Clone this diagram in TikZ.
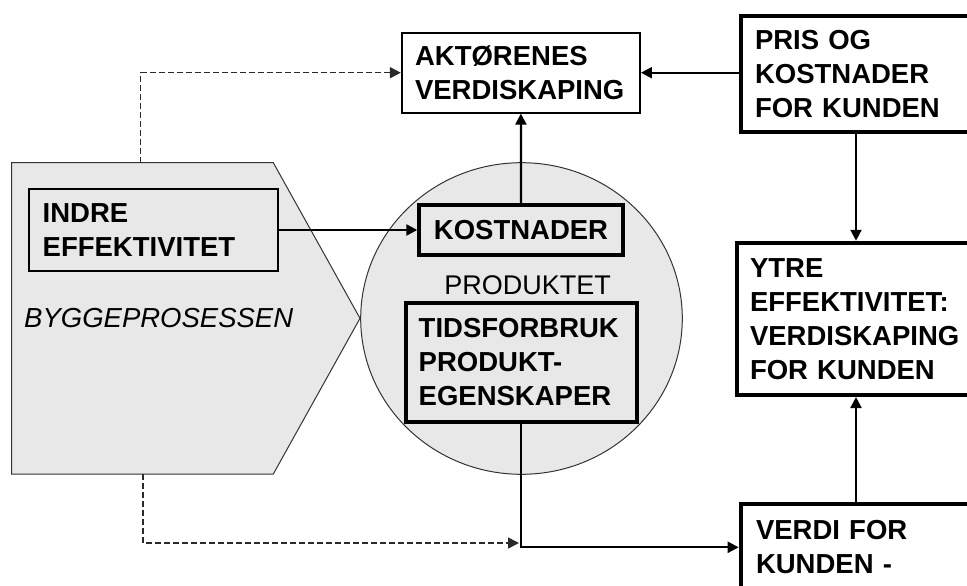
\documentclass[tikz,border=0pt]{standalone}
\usepackage{fontspec}
\setmainfont{Liberation Sans}
\usetikzlibrary{arrows.meta}
\definecolor{fillgray}{HTML}{E8E8E8}
\definecolor{edgegray}{HTML}{333333}
\definecolor{dashgray}{HTML}{2A2A2A}
\begin{document}
\begin{tikzpicture}[x=1pt,y=-1pt,
  every node/.style={font=\fontsize{27.5}{34}\selectfont\bfseries},
  thinbox/.style={draw=black,line width=1.8pt,rectangle,inner ysep=0pt,align=left},
  thickbox/.style={draw=black,line width=4pt,rectangle,inner ysep=0pt,align=left},
  conn/.style={line width=2.2pt,-{Triangle[length=11pt,width=11pt]}},
  dconn/.style={line width=1.6pt,draw=dashgray,dash pattern=on 6pt off 3pt,-{Triangle[length=11pt,width=11pt]}},
  plain/.style={draw=edgegray,line width=1pt,fill=fillgray}
]
\useasboundingbox (0,0) rectangle (967,586);
\clip (0,0) rectangle (967,586);

% process shape and product circle
\draw[plain] (11.7,162.7) -- (273.3,162.7) -- (360,318.3) -- (273.3,474) -- (11.7,474) -- cycle;
\draw[plain] (521.5,318.5) ellipse [x radius=160.8pt, y radius=155.8pt];

\coordinate (ptop) at (140.5,162.7);
\coordinate (pbot) at (143,474);
\coordinate (dend) at (519,543);

% boxes
\node[thinbox, fill=white, minimum width=238.3pt, minimum height=80pt, text width=211.7pt, inner xsep=13.3pt] (akt) at (520.9,72.7) {AKTØRENES\\VERDISKAPING};
\node[thinbox, fill=fillgray, minimum width=249pt, minimum height=81.4pt, text width=222.2pt, inner xsep=13.4pt] (indre) at (153.8,230) {INDRE\\EFFEKTIVITET};
\node[thickbox, fill=fillgray, minimum width=203.4pt, minimum height=50pt, align=center] (kost) at (521,230) {KOSTNADER};
\node[thickbox, fill=fillgray, minimum width=231pt, minimum height=119pt, text width=205pt, inner xsep=13pt] (tids) at (521.2,362.2) {TIDSFORBRUK\\PRODUKT-\\EGENSKAPER};
\node[thickbox, fill=white, minimum width=230.6pt, minimum height=116pt, text width=202pt, inner xsep=14.3pt] (pris) at (856,74) {PRIS OG\\KOSTNADER\\FOR KUNDEN};
\node[thickbox, fill=white, minimum width=239pt, minimum height=152.3pt, text width=212pt, inner xsep=13.5pt] (ytre) at (856,318.9) {YTRE\\EFFEKTIVITET:\\VERDISKAPING\\FOR KUNDEN};
\node[thickbox, fill=white, minimum width=230.6pt, minimum height=86pt, text width=200pt, inner xsep=15.3pt] (verdi) at (856,547.3) {VERDI FOR\\KUNDEN -};

% plain labels
\node[font=\fontsize{27.5}{34}\selectfont\itshape, anchor=base west, inner sep=0pt] (bygg) at (24,327.7) {BYGGEPROSESSEN};
\node[font=\fontsize{27}{34}\selectfont, anchor=base, inner sep=0pt] (prod) at (527.7,294.7) {PRODUKTET};

% connectors
\draw[dconn] (ptop) |- (akt.west);
\draw[dconn] (pbot) |- (dend);
\draw[conn] (indre.east) -- (kost.west);
\draw[conn] (kost.north) -- (akt.south);
\draw[conn] (akt.east -| pris.west) -- (akt.east);
\draw[conn] (pris.south) -- (ytre.north);
\draw[conn] (verdi.north) -- (ytre.south);
\draw[conn] (tids.south) |- (verdi.west);
\end{tikzpicture}
\end{document}
